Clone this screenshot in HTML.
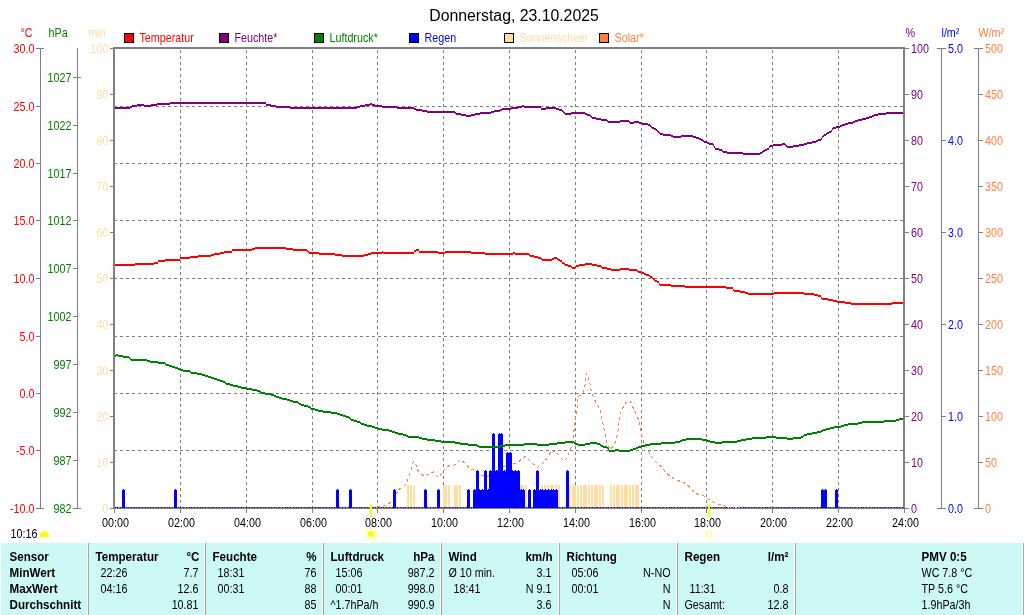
<!DOCTYPE html>
<html><head><meta charset="utf-8"><style>
html,body{margin:0;padding:0;background:#fff;width:1024px;height:615px;overflow:hidden}
svg{display:block;font-family:"Liberation Sans", sans-serif}
</style></head><body>
<svg width="1024" height="615" viewBox="0 0 1024 615" shape-rendering="crispEdges">
<defs><filter id="th" x="0" y="0" width="100%" height="100%" filterUnits="userSpaceOnUse" color-interpolation-filters="sRGB"><feComponentTransfer><feFuncA type="identity"/></feComponentTransfer></filter></defs>
<path d="M114 106.5H903 M114 163.5H903 M114 220.5H903 M114 278.5H903 M114 336.5H903 M114 393.5H903 M114 450.5H903" stroke="#808080" stroke-width="1" stroke-dasharray="3 3" fill="none"/>
<path d="M180.5 509V48 M246.5 509V48 M312.5 509V48 M377.5 509V48 M443.5 509V48 M509.5 509V48 M575.5 509V48 M641.5 509V48 M706.5 509V48 M772.5 509V48 M838.5 509V48" stroke="#808080" stroke-width="1" stroke-dasharray="3 3" fill="none"/>
<rect x="407" y="485" width="2" height="23" fill="#FFDEA0"/>
<rect x="410" y="485" width="2" height="23" fill="#FFDEA0"/>
<rect x="413" y="485" width="2" height="23" fill="#FFDEA0"/>
<rect x="443" y="485" width="2" height="23" fill="#FFDEA0"/>
<rect x="445" y="485" width="2" height="23" fill="#FFDEA0"/>
<rect x="448" y="485" width="2" height="23" fill="#FFDEA0"/>
<rect x="454" y="485" width="2" height="23" fill="#FFDEA0"/>
<rect x="456" y="485" width="2" height="23" fill="#FFDEA0"/>
<rect x="459" y="485" width="2" height="23" fill="#FFDEA0"/>
<rect x="520" y="485" width="2" height="23" fill="#FFDEA0"/>
<rect x="522" y="485" width="2" height="23" fill="#FFDEA0"/>
<rect x="525" y="485" width="2" height="23" fill="#FFDEA0"/>
<rect x="541" y="485" width="2" height="23" fill="#FFDEA0"/>
<rect x="544" y="485" width="2" height="23" fill="#FFDEA0"/>
<rect x="547" y="485" width="2" height="23" fill="#FFDEA0"/>
<rect x="550" y="485" width="2" height="23" fill="#FFDEA0"/>
<rect x="552" y="485" width="2" height="23" fill="#FFDEA0"/>
<rect x="555" y="485" width="2" height="23" fill="#FFDEA0"/>
<rect x="558" y="485" width="2" height="23" fill="#FFDEA0"/>
<rect x="569" y="485" width="2" height="23" fill="#FFDEA0"/>
<rect x="572" y="485" width="2" height="23" fill="#FFDEA0"/>
<rect x="574" y="485" width="2" height="23" fill="#FFDEA0"/>
<rect x="577" y="485" width="2" height="23" fill="#FFDEA0"/>
<rect x="580" y="485" width="2" height="23" fill="#FFDEA0"/>
<rect x="583" y="485" width="2" height="23" fill="#FFDEA0"/>
<rect x="585" y="485" width="2" height="23" fill="#FFDEA0"/>
<rect x="588" y="485" width="2" height="23" fill="#FFDEA0"/>
<rect x="591" y="485" width="2" height="23" fill="#FFDEA0"/>
<rect x="594" y="485" width="2" height="23" fill="#FFDEA0"/>
<rect x="596" y="485" width="2" height="23" fill="#FFDEA0"/>
<rect x="599" y="485" width="2" height="23" fill="#FFDEA0"/>
<rect x="602" y="485" width="2" height="23" fill="#FFDEA0"/>
<rect x="610" y="485" width="2" height="23" fill="#FFDEA0"/>
<rect x="613" y="485" width="2" height="23" fill="#FFDEA0"/>
<rect x="616" y="485" width="2" height="23" fill="#FFDEA0"/>
<rect x="618" y="485" width="2" height="23" fill="#FFDEA0"/>
<rect x="621" y="485" width="2" height="23" fill="#FFDEA0"/>
<rect x="624" y="485" width="2" height="23" fill="#FFDEA0"/>
<rect x="626" y="485" width="2" height="23" fill="#FFDEA0"/>
<rect x="629" y="485" width="2" height="23" fill="#FFDEA0"/>
<rect x="632" y="485" width="2" height="23" fill="#FFDEA0"/>
<rect x="635" y="485" width="2" height="23" fill="#FFDEA0"/>
<rect x="637" y="485" width="2" height="23" fill="#FFDEA0"/>
<rect x="114" y="507" width="789" height="1" fill="#808080"/>
<path d="M114 507.5H728M739 507.5H903" stroke="#808000" stroke-width="1" stroke-dasharray="3 3"/>
<rect x="728" y="507" width="11" height="1" fill="#FFFFFF"/>
<rect x="731" y="507" width="1" height="1" fill="#FF8040"/>
<rect x="733" y="507" width="1" height="1" fill="#FF8040"/>
<rect x="738" y="507" width="1" height="1" fill="#FF8040"/>
<polyline points="377.0,507.5 380.0,506.0 386.0,505.0 392.0,501.5 398.7,489.5 405.0,485.3 407.8,480.0 411.8,467.3 413.5,461.6 415.8,464.0 417.5,470.0 423.8,476.4 428.3,474.2 433.5,472.0 438.6,477.6 443.1,470.8 448.8,465.6 454.5,465.0 460.2,459.6 465.1,463.0 470.3,469.3 477.0,470.4 481.0,475.0 487.3,476.5 495.0,472.0 505.0,466.0 512.4,464.2 517.5,463.0 522.0,458.5 525.5,456.4 531.8,463.0 537.4,467.4 541.4,464.7 544.3,461.3 548.3,456.8 551.7,450.3 556.2,452.2 560.2,456.2 564.0,461.5 568.0,456.0 572.5,443.7 574.3,428.0 575.3,419.3 576.5,414.4 577.5,402.7 578.4,396.3 581.8,394.4 583.0,393.0 584.4,388.3 585.4,382.5 585.4,377.4 586.4,373.3 587.5,375.0 589.5,381.0 590.5,386.4 591.4,392.0 593.8,398.3 597.0,404.2 600.2,410.5 601.5,416.4 602.6,422.2 604.0,429.0 605.6,434.8 607.2,445.0 610.5,449.5 614.7,444.0 617.8,433.0 618.8,426.0 619.6,415.0 622.0,409.4 625.2,403.2 629.0,400.3 630.5,401.2 632.8,407.0 635.7,413.5 638.4,419.3 639.8,426.0 640.7,431.5 643.3,441.5 647.2,449.5 651.0,455.4 655.5,461.5 661.1,466.4 665.1,471.7 670.1,476.4 675.4,480.1 681.7,481.5 687.0,484.3 691.8,489.6 697.6,494.2 703.4,495.4 708.7,499.6 714.5,502.8 720.8,504.9 726.6,506.5 732.0,507.5" stroke="#FF8040" stroke-width="1" stroke-dasharray="3 3" fill="none" shape-rendering="crispEdges"/>
<rect x="115" y="507" width="1" height="1" fill="#0000FF"/>
<rect x="117" y="507" width="1" height="1" fill="#0000FF"/>
<rect x="120" y="507" width="1" height="1" fill="#0000FF"/>
<rect x="126" y="507" width="1" height="1" fill="#0000FF"/>
<rect x="128" y="507" width="1" height="1" fill="#0000FF"/>
<rect x="131" y="507" width="1" height="1" fill="#0000FF"/>
<rect x="134" y="507" width="1" height="1" fill="#0000FF"/>
<rect x="136" y="507" width="1" height="1" fill="#0000FF"/>
<rect x="139" y="507" width="1" height="1" fill="#0000FF"/>
<rect x="142" y="507" width="1" height="1" fill="#0000FF"/>
<rect x="145" y="507" width="1" height="1" fill="#0000FF"/>
<rect x="147" y="507" width="1" height="1" fill="#0000FF"/>
<rect x="150" y="507" width="1" height="1" fill="#0000FF"/>
<rect x="153" y="507" width="1" height="1" fill="#0000FF"/>
<rect x="156" y="507" width="1" height="1" fill="#0000FF"/>
<rect x="158" y="507" width="1" height="1" fill="#0000FF"/>
<rect x="161" y="507" width="1" height="1" fill="#0000FF"/>
<rect x="164" y="507" width="1" height="1" fill="#0000FF"/>
<rect x="167" y="507" width="1" height="1" fill="#0000FF"/>
<rect x="169" y="507" width="1" height="1" fill="#0000FF"/>
<rect x="172" y="507" width="1" height="1" fill="#0000FF"/>
<rect x="178" y="507" width="1" height="1" fill="#0000FF"/>
<rect x="180" y="507" width="1" height="1" fill="#0000FF"/>
<rect x="183" y="507" width="1" height="1" fill="#0000FF"/>
<rect x="186" y="507" width="1" height="1" fill="#0000FF"/>
<rect x="189" y="507" width="1" height="1" fill="#0000FF"/>
<rect x="191" y="507" width="1" height="1" fill="#0000FF"/>
<rect x="194" y="507" width="1" height="1" fill="#0000FF"/>
<rect x="197" y="507" width="1" height="1" fill="#0000FF"/>
<rect x="200" y="507" width="1" height="1" fill="#0000FF"/>
<rect x="202" y="507" width="1" height="1" fill="#0000FF"/>
<rect x="205" y="507" width="1" height="1" fill="#0000FF"/>
<rect x="208" y="507" width="1" height="1" fill="#0000FF"/>
<rect x="211" y="507" width="1" height="1" fill="#0000FF"/>
<rect x="213" y="507" width="1" height="1" fill="#0000FF"/>
<rect x="216" y="507" width="1" height="1" fill="#0000FF"/>
<rect x="219" y="507" width="1" height="1" fill="#0000FF"/>
<rect x="222" y="507" width="1" height="1" fill="#0000FF"/>
<rect x="224" y="507" width="1" height="1" fill="#0000FF"/>
<rect x="227" y="507" width="1" height="1" fill="#0000FF"/>
<rect x="230" y="507" width="1" height="1" fill="#0000FF"/>
<rect x="232" y="507" width="1" height="1" fill="#0000FF"/>
<rect x="235" y="507" width="1" height="1" fill="#0000FF"/>
<rect x="238" y="507" width="1" height="1" fill="#0000FF"/>
<rect x="241" y="507" width="1" height="1" fill="#0000FF"/>
<rect x="243" y="507" width="1" height="1" fill="#0000FF"/>
<rect x="246" y="507" width="1" height="1" fill="#0000FF"/>
<rect x="249" y="507" width="1" height="1" fill="#0000FF"/>
<rect x="252" y="507" width="1" height="1" fill="#0000FF"/>
<rect x="254" y="507" width="1" height="1" fill="#0000FF"/>
<rect x="257" y="507" width="1" height="1" fill="#0000FF"/>
<rect x="260" y="507" width="1" height="1" fill="#0000FF"/>
<rect x="263" y="507" width="1" height="1" fill="#0000FF"/>
<rect x="265" y="507" width="1" height="1" fill="#0000FF"/>
<rect x="268" y="507" width="1" height="1" fill="#0000FF"/>
<rect x="271" y="507" width="1" height="1" fill="#0000FF"/>
<rect x="274" y="507" width="1" height="1" fill="#0000FF"/>
<rect x="276" y="507" width="1" height="1" fill="#0000FF"/>
<rect x="279" y="507" width="1" height="1" fill="#0000FF"/>
<rect x="282" y="507" width="1" height="1" fill="#0000FF"/>
<rect x="285" y="507" width="1" height="1" fill="#0000FF"/>
<rect x="287" y="507" width="1" height="1" fill="#0000FF"/>
<rect x="290" y="507" width="1" height="1" fill="#0000FF"/>
<rect x="293" y="507" width="1" height="1" fill="#0000FF"/>
<rect x="296" y="507" width="1" height="1" fill="#0000FF"/>
<rect x="298" y="507" width="1" height="1" fill="#0000FF"/>
<rect x="301" y="507" width="1" height="1" fill="#0000FF"/>
<rect x="304" y="507" width="1" height="1" fill="#0000FF"/>
<rect x="307" y="507" width="1" height="1" fill="#0000FF"/>
<rect x="309" y="507" width="1" height="1" fill="#0000FF"/>
<rect x="312" y="507" width="1" height="1" fill="#0000FF"/>
<rect x="315" y="507" width="1" height="1" fill="#0000FF"/>
<rect x="318" y="507" width="1" height="1" fill="#0000FF"/>
<rect x="320" y="507" width="1" height="1" fill="#0000FF"/>
<rect x="323" y="507" width="1" height="1" fill="#0000FF"/>
<rect x="326" y="507" width="1" height="1" fill="#0000FF"/>
<rect x="329" y="507" width="1" height="1" fill="#0000FF"/>
<rect x="331" y="507" width="1" height="1" fill="#0000FF"/>
<rect x="334" y="507" width="1" height="1" fill="#0000FF"/>
<rect x="339" y="507" width="1" height="1" fill="#0000FF"/>
<rect x="342" y="507" width="1" height="1" fill="#0000FF"/>
<rect x="345" y="507" width="1" height="1" fill="#0000FF"/>
<rect x="348" y="507" width="1" height="1" fill="#0000FF"/>
<rect x="353" y="507" width="1" height="1" fill="#0000FF"/>
<rect x="356" y="507" width="1" height="1" fill="#0000FF"/>
<rect x="359" y="507" width="1" height="1" fill="#0000FF"/>
<rect x="361" y="507" width="1" height="1" fill="#0000FF"/>
<rect x="364" y="507" width="1" height="1" fill="#0000FF"/>
<rect x="367" y="507" width="1" height="1" fill="#0000FF"/>
<rect x="370" y="507" width="1" height="1" fill="#0000FF"/>
<rect x="372" y="507" width="1" height="1" fill="#0000FF"/>
<rect x="375" y="507" width="1" height="1" fill="#0000FF"/>
<rect x="378" y="507" width="1" height="1" fill="#0000FF"/>
<rect x="381" y="507" width="1" height="1" fill="#0000FF"/>
<rect x="383" y="507" width="1" height="1" fill="#0000FF"/>
<rect x="386" y="507" width="1" height="1" fill="#0000FF"/>
<rect x="389" y="507" width="1" height="1" fill="#0000FF"/>
<rect x="392" y="507" width="1" height="1" fill="#0000FF"/>
<rect x="397" y="507" width="1" height="1" fill="#0000FF"/>
<rect x="400" y="507" width="1" height="1" fill="#0000FF"/>
<rect x="403" y="507" width="1" height="1" fill="#0000FF"/>
<rect x="405" y="507" width="1" height="1" fill="#0000FF"/>
<rect x="408" y="507" width="1" height="1" fill="#0000FF"/>
<rect x="411" y="507" width="1" height="1" fill="#0000FF"/>
<rect x="414" y="507" width="1" height="1" fill="#0000FF"/>
<rect x="416" y="507" width="1" height="1" fill="#0000FF"/>
<rect x="419" y="507" width="1" height="1" fill="#0000FF"/>
<rect x="422" y="507" width="1" height="1" fill="#0000FF"/>
<rect x="427" y="507" width="1" height="1" fill="#0000FF"/>
<rect x="430" y="507" width="1" height="1" fill="#0000FF"/>
<rect x="433" y="507" width="1" height="1" fill="#0000FF"/>
<rect x="435" y="507" width="1" height="1" fill="#0000FF"/>
<rect x="441" y="507" width="1" height="1" fill="#0000FF"/>
<rect x="444" y="507" width="1" height="1" fill="#0000FF"/>
<rect x="446" y="507" width="1" height="1" fill="#0000FF"/>
<rect x="449" y="507" width="1" height="1" fill="#0000FF"/>
<rect x="452" y="507" width="1" height="1" fill="#0000FF"/>
<rect x="455" y="507" width="1" height="1" fill="#0000FF"/>
<rect x="457" y="507" width="1" height="1" fill="#0000FF"/>
<rect x="460" y="507" width="1" height="1" fill="#0000FF"/>
<rect x="463" y="507" width="1" height="1" fill="#0000FF"/>
<rect x="466" y="507" width="1" height="1" fill="#0000FF"/>
<rect x="471" y="507" width="1" height="1" fill="#0000FF"/>
<rect x="526" y="507" width="1" height="1" fill="#0000FF"/>
<rect x="531" y="507" width="1" height="1" fill="#0000FF"/>
<rect x="559" y="507" width="1" height="1" fill="#0000FF"/>
<rect x="562" y="507" width="1" height="1" fill="#0000FF"/>
<rect x="564" y="507" width="1" height="1" fill="#0000FF"/>
<rect x="570" y="507" width="1" height="1" fill="#0000FF"/>
<rect x="573" y="507" width="1" height="1" fill="#0000FF"/>
<rect x="575" y="507" width="1" height="1" fill="#0000FF"/>
<rect x="578" y="507" width="1" height="1" fill="#0000FF"/>
<rect x="581" y="507" width="1" height="1" fill="#0000FF"/>
<rect x="584" y="507" width="1" height="1" fill="#0000FF"/>
<rect x="586" y="507" width="1" height="1" fill="#0000FF"/>
<rect x="589" y="507" width="1" height="1" fill="#0000FF"/>
<rect x="592" y="507" width="1" height="1" fill="#0000FF"/>
<rect x="595" y="507" width="1" height="1" fill="#0000FF"/>
<rect x="597" y="507" width="1" height="1" fill="#0000FF"/>
<rect x="600" y="507" width="1" height="1" fill="#0000FF"/>
<rect x="603" y="507" width="1" height="1" fill="#0000FF"/>
<rect x="606" y="507" width="1" height="1" fill="#0000FF"/>
<rect x="608" y="507" width="1" height="1" fill="#0000FF"/>
<rect x="611" y="507" width="1" height="1" fill="#0000FF"/>
<rect x="614" y="507" width="1" height="1" fill="#0000FF"/>
<rect x="617" y="507" width="1" height="1" fill="#0000FF"/>
<rect x="619" y="507" width="1" height="1" fill="#0000FF"/>
<rect x="622" y="507" width="1" height="1" fill="#0000FF"/>
<rect x="625" y="507" width="1" height="1" fill="#0000FF"/>
<rect x="627" y="507" width="1" height="1" fill="#0000FF"/>
<rect x="630" y="507" width="1" height="1" fill="#0000FF"/>
<rect x="633" y="507" width="1" height="1" fill="#0000FF"/>
<rect x="636" y="507" width="1" height="1" fill="#0000FF"/>
<rect x="638" y="507" width="1" height="1" fill="#0000FF"/>
<rect x="641" y="507" width="1" height="1" fill="#0000FF"/>
<rect x="644" y="507" width="1" height="1" fill="#0000FF"/>
<rect x="647" y="507" width="1" height="1" fill="#0000FF"/>
<rect x="649" y="507" width="1" height="1" fill="#0000FF"/>
<rect x="652" y="507" width="1" height="1" fill="#0000FF"/>
<rect x="655" y="507" width="1" height="1" fill="#0000FF"/>
<rect x="658" y="507" width="1" height="1" fill="#0000FF"/>
<rect x="660" y="507" width="1" height="1" fill="#0000FF"/>
<rect x="663" y="507" width="1" height="1" fill="#0000FF"/>
<rect x="666" y="507" width="1" height="1" fill="#0000FF"/>
<rect x="669" y="507" width="1" height="1" fill="#0000FF"/>
<rect x="671" y="507" width="1" height="1" fill="#0000FF"/>
<rect x="674" y="507" width="1" height="1" fill="#0000FF"/>
<rect x="677" y="507" width="1" height="1" fill="#0000FF"/>
<rect x="680" y="507" width="1" height="1" fill="#0000FF"/>
<rect x="682" y="507" width="1" height="1" fill="#0000FF"/>
<rect x="685" y="507" width="1" height="1" fill="#0000FF"/>
<rect x="688" y="507" width="1" height="1" fill="#0000FF"/>
<rect x="691" y="507" width="1" height="1" fill="#0000FF"/>
<rect x="693" y="507" width="1" height="1" fill="#0000FF"/>
<rect x="696" y="507" width="1" height="1" fill="#0000FF"/>
<rect x="699" y="507" width="1" height="1" fill="#0000FF"/>
<rect x="702" y="507" width="1" height="1" fill="#0000FF"/>
<rect x="704" y="507" width="1" height="1" fill="#0000FF"/>
<rect x="707" y="507" width="1" height="1" fill="#0000FF"/>
<rect x="710" y="507" width="1" height="1" fill="#0000FF"/>
<rect x="713" y="507" width="1" height="1" fill="#0000FF"/>
<rect x="715" y="507" width="1" height="1" fill="#0000FF"/>
<rect x="718" y="507" width="1" height="1" fill="#0000FF"/>
<rect x="721" y="507" width="1" height="1" fill="#0000FF"/>
<rect x="724" y="507" width="1" height="1" fill="#0000FF"/>
<rect x="726" y="507" width="1" height="1" fill="#0000FF"/>
<rect x="729" y="507" width="1" height="1" fill="#0000FF"/>
<rect x="732" y="507" width="1" height="1" fill="#0000FF"/>
<rect x="734" y="507" width="1" height="1" fill="#0000FF"/>
<rect x="737" y="507" width="1" height="1" fill="#0000FF"/>
<rect x="740" y="507" width="1" height="1" fill="#0000FF"/>
<rect x="743" y="507" width="1" height="1" fill="#0000FF"/>
<rect x="745" y="507" width="1" height="1" fill="#0000FF"/>
<rect x="748" y="507" width="1" height="1" fill="#0000FF"/>
<rect x="751" y="507" width="1" height="1" fill="#0000FF"/>
<rect x="754" y="507" width="1" height="1" fill="#0000FF"/>
<rect x="756" y="507" width="1" height="1" fill="#0000FF"/>
<rect x="759" y="507" width="1" height="1" fill="#0000FF"/>
<rect x="762" y="507" width="1" height="1" fill="#0000FF"/>
<rect x="765" y="507" width="1" height="1" fill="#0000FF"/>
<rect x="767" y="507" width="1" height="1" fill="#0000FF"/>
<rect x="770" y="507" width="1" height="1" fill="#0000FF"/>
<rect x="773" y="507" width="1" height="1" fill="#0000FF"/>
<rect x="776" y="507" width="1" height="1" fill="#0000FF"/>
<rect x="778" y="507" width="1" height="1" fill="#0000FF"/>
<rect x="781" y="507" width="1" height="1" fill="#0000FF"/>
<rect x="784" y="507" width="1" height="1" fill="#0000FF"/>
<rect x="787" y="507" width="1" height="1" fill="#0000FF"/>
<rect x="789" y="507" width="1" height="1" fill="#0000FF"/>
<rect x="792" y="507" width="1" height="1" fill="#0000FF"/>
<rect x="795" y="507" width="1" height="1" fill="#0000FF"/>
<rect x="798" y="507" width="1" height="1" fill="#0000FF"/>
<rect x="800" y="507" width="1" height="1" fill="#0000FF"/>
<rect x="803" y="507" width="1" height="1" fill="#0000FF"/>
<rect x="806" y="507" width="1" height="1" fill="#0000FF"/>
<rect x="809" y="507" width="1" height="1" fill="#0000FF"/>
<rect x="811" y="507" width="1" height="1" fill="#0000FF"/>
<rect x="814" y="507" width="1" height="1" fill="#0000FF"/>
<rect x="817" y="507" width="1" height="1" fill="#0000FF"/>
<rect x="820" y="507" width="1" height="1" fill="#0000FF"/>
<rect x="828" y="507" width="1" height="1" fill="#0000FF"/>
<rect x="830" y="507" width="1" height="1" fill="#0000FF"/>
<rect x="833" y="507" width="1" height="1" fill="#0000FF"/>
<rect x="839" y="507" width="1" height="1" fill="#0000FF"/>
<rect x="841" y="507" width="1" height="1" fill="#0000FF"/>
<rect x="844" y="507" width="1" height="1" fill="#0000FF"/>
<rect x="847" y="507" width="1" height="1" fill="#0000FF"/>
<rect x="850" y="507" width="1" height="1" fill="#0000FF"/>
<rect x="852" y="507" width="1" height="1" fill="#0000FF"/>
<rect x="855" y="507" width="1" height="1" fill="#0000FF"/>
<rect x="858" y="507" width="1" height="1" fill="#0000FF"/>
<rect x="861" y="507" width="1" height="1" fill="#0000FF"/>
<rect x="863" y="507" width="1" height="1" fill="#0000FF"/>
<rect x="866" y="507" width="1" height="1" fill="#0000FF"/>
<rect x="869" y="507" width="1" height="1" fill="#0000FF"/>
<rect x="872" y="507" width="1" height="1" fill="#0000FF"/>
<rect x="874" y="507" width="1" height="1" fill="#0000FF"/>
<rect x="877" y="507" width="1" height="1" fill="#0000FF"/>
<rect x="880" y="507" width="1" height="1" fill="#0000FF"/>
<rect x="883" y="507" width="1" height="1" fill="#0000FF"/>
<rect x="885" y="507" width="1" height="1" fill="#0000FF"/>
<rect x="888" y="507" width="1" height="1" fill="#0000FF"/>
<rect x="891" y="507" width="1" height="1" fill="#0000FF"/>
<rect x="894" y="507" width="1" height="1" fill="#0000FF"/>
<rect x="896" y="507" width="1" height="1" fill="#0000FF"/>
<rect x="899" y="507" width="1" height="1" fill="#0000FF"/>
<rect x="902" y="507" width="1" height="1" fill="#0000FF"/>
<rect x="122" y="490" width="3" height="18" fill="#0000FF"/>
<rect x="123" y="489" width="1" height="1" fill="#0000FF"/>
<rect x="174" y="490" width="3" height="18" fill="#0000FF"/>
<rect x="175" y="489" width="1" height="1" fill="#0000FF"/>
<rect x="336" y="490" width="3" height="18" fill="#0000FF"/>
<rect x="337" y="489" width="1" height="1" fill="#0000FF"/>
<rect x="349" y="490" width="3" height="18" fill="#0000FF"/>
<rect x="350" y="489" width="1" height="1" fill="#0000FF"/>
<rect x="393" y="490" width="3" height="18" fill="#0000FF"/>
<rect x="394" y="489" width="1" height="1" fill="#0000FF"/>
<rect x="424" y="490" width="3" height="18" fill="#0000FF"/>
<rect x="425" y="489" width="1" height="1" fill="#0000FF"/>
<rect x="437" y="490" width="3" height="18" fill="#0000FF"/>
<rect x="438" y="489" width="1" height="1" fill="#0000FF"/>
<rect x="467" y="490" width="3" height="18" fill="#0000FF"/>
<rect x="468" y="489" width="1" height="1" fill="#0000FF"/>
<rect x="473" y="490" width="3" height="18" fill="#0000FF"/>
<rect x="474" y="489" width="1" height="1" fill="#0000FF"/>
<rect x="476" y="471" width="3" height="37" fill="#0000FF"/>
<rect x="477" y="470" width="1" height="1" fill="#0000FF"/>
<rect x="478" y="490" width="3" height="18" fill="#0000FF"/>
<rect x="479" y="489" width="1" height="1" fill="#0000FF"/>
<rect x="481" y="490" width="3" height="18" fill="#0000FF"/>
<rect x="482" y="489" width="1" height="1" fill="#0000FF"/>
<rect x="484" y="471" width="3" height="37" fill="#0000FF"/>
<rect x="485" y="470" width="1" height="1" fill="#0000FF"/>
<rect x="487" y="490" width="3" height="18" fill="#0000FF"/>
<rect x="488" y="489" width="1" height="1" fill="#0000FF"/>
<rect x="489" y="471" width="3" height="37" fill="#0000FF"/>
<rect x="490" y="470" width="1" height="1" fill="#0000FF"/>
<rect x="492" y="434" width="3" height="74" fill="#0000FF"/>
<rect x="493" y="433" width="1" height="1" fill="#0000FF"/>
<rect x="495" y="471" width="3" height="37" fill="#0000FF"/>
<rect x="496" y="470" width="1" height="1" fill="#0000FF"/>
<rect x="498" y="434" width="3" height="74" fill="#0000FF"/>
<rect x="499" y="433" width="1" height="1" fill="#0000FF"/>
<rect x="500" y="434" width="3" height="74" fill="#0000FF"/>
<rect x="501" y="433" width="1" height="1" fill="#0000FF"/>
<rect x="503" y="471" width="3" height="37" fill="#0000FF"/>
<rect x="504" y="470" width="1" height="1" fill="#0000FF"/>
<rect x="506" y="453" width="3" height="55" fill="#0000FF"/>
<rect x="507" y="452" width="1" height="1" fill="#0000FF"/>
<rect x="509" y="453" width="3" height="55" fill="#0000FF"/>
<rect x="510" y="452" width="1" height="1" fill="#0000FF"/>
<rect x="511" y="471" width="3" height="37" fill="#0000FF"/>
<rect x="512" y="470" width="1" height="1" fill="#0000FF"/>
<rect x="514" y="471" width="3" height="37" fill="#0000FF"/>
<rect x="515" y="470" width="1" height="1" fill="#0000FF"/>
<rect x="517" y="471" width="3" height="37" fill="#0000FF"/>
<rect x="518" y="470" width="1" height="1" fill="#0000FF"/>
<rect x="520" y="490" width="3" height="18" fill="#0000FF"/>
<rect x="521" y="489" width="1" height="1" fill="#0000FF"/>
<rect x="522" y="490" width="3" height="18" fill="#0000FF"/>
<rect x="523" y="489" width="1" height="1" fill="#0000FF"/>
<rect x="528" y="490" width="3" height="18" fill="#0000FF"/>
<rect x="529" y="489" width="1" height="1" fill="#0000FF"/>
<rect x="533" y="490" width="3" height="18" fill="#0000FF"/>
<rect x="534" y="489" width="1" height="1" fill="#0000FF"/>
<rect x="536" y="471" width="3" height="37" fill="#0000FF"/>
<rect x="537" y="470" width="1" height="1" fill="#0000FF"/>
<rect x="539" y="490" width="3" height="18" fill="#0000FF"/>
<rect x="540" y="489" width="1" height="1" fill="#0000FF"/>
<rect x="541" y="490" width="3" height="18" fill="#0000FF"/>
<rect x="542" y="489" width="1" height="1" fill="#0000FF"/>
<rect x="544" y="490" width="3" height="18" fill="#0000FF"/>
<rect x="545" y="489" width="1" height="1" fill="#0000FF"/>
<rect x="547" y="490" width="3" height="18" fill="#0000FF"/>
<rect x="548" y="489" width="1" height="1" fill="#0000FF"/>
<rect x="550" y="490" width="3" height="18" fill="#0000FF"/>
<rect x="551" y="489" width="1" height="1" fill="#0000FF"/>
<rect x="552" y="490" width="3" height="18" fill="#0000FF"/>
<rect x="553" y="489" width="1" height="1" fill="#0000FF"/>
<rect x="555" y="490" width="3" height="18" fill="#0000FF"/>
<rect x="556" y="489" width="1" height="1" fill="#0000FF"/>
<rect x="566" y="471" width="3" height="37" fill="#0000FF"/>
<rect x="567" y="470" width="1" height="1" fill="#0000FF"/>
<rect x="821" y="490" width="3" height="18" fill="#0000FF"/>
<rect x="822" y="489" width="1" height="1" fill="#0000FF"/>
<rect x="824" y="490" width="3" height="18" fill="#0000FF"/>
<rect x="825" y="489" width="1" height="1" fill="#0000FF"/>
<rect x="835" y="490" width="3" height="18" fill="#0000FF"/>
<rect x="836" y="489" width="1" height="1" fill="#0000FF"/>
<path d="M115 355h1v2h-1zM116 354h2v2h-2zM118 355h5v2h-5zM123 356h6v2h-6zM129 357h1v2h-1zM130 358h1v2h-1zM131 359h16v2h-16zM147 360h3v2h-3zM150 361h8v2h-8zM158 362h7v2h-7zM165 363h1v2h-1zM166 364h3v2h-3zM169 365h3v2h-3zM172 366h3v2h-3zM175 367h3v2h-3zM178 368h2v2h-2zM180 369h3v2h-3zM183 370h7v2h-7zM190 371h1v2h-1zM191 372h6v2h-6zM197 373h5v2h-5zM202 374h3v2h-3zM205 375h3v2h-3zM208 376h3v2h-3zM211 377h3v2h-3zM214 378h3v2h-3zM217 379h3v2h-3zM220 380h3v2h-3zM223 381h2v2h-2zM225 382h1v2h-1zM226 383h4v2h-4zM230 384h3v2h-3zM233 385h5v2h-5zM238 386h3v2h-3zM241 387h5v2h-5zM246 388h6v2h-6zM252 389h5v2h-5zM257 390h3v2h-3zM260 391h1v2h-1zM261 392h4v2h-4zM265 393h6v2h-6zM271 394h3v2h-3zM274 395h2v2h-2zM276 396h3v2h-3zM279 397h3v2h-3zM282 398h5v2h-5zM287 399h3v2h-3zM290 400h3v2h-3zM293 401h5v2h-5zM298 402h1v2h-1zM299 403h2v2h-2zM301 404h3v2h-3zM304 405h4v2h-4zM308 406h2v2h-2zM310 407h1v2h-1zM311 408h4v2h-4zM315 409h3v2h-3zM318 410h5v2h-5zM323 411h8v2h-8zM331 412h6v2h-6zM337 413h3v2h-3zM340 414h3v2h-3zM343 415h3v2h-3zM346 416h3v2h-3zM349 417h1v2h-1zM350 418h1v2h-1zM351 419h3v2h-3zM354 420h3v2h-3zM357 421h3v2h-3zM360 422h1v2h-1zM361 423h3v2h-3zM364 424h3v2h-3zM367 425h5v2h-5zM372 426h3v2h-3zM375 427h3v2h-3zM378 428h4v2h-4zM382 429h7v2h-7zM389 430h3v2h-3zM392 431h3v2h-3zM395 432h3v2h-3zM398 433h5v2h-5zM403 434h3v2h-3zM406 435h2v2h-2zM408 436h11v2h-11zM419 437h3v2h-3zM422 438h5v2h-5zM427 439h8v2h-8zM435 440h6v2h-6zM441 441h14v2h-14zM455 442h5v2h-5zM460 443h8v2h-8zM468 444h9v2h-9zM477 445h2v2h-2zM479 446h21v2h-21zM500 445h5v2h-5zM505 444h19v2h-19zM524 443h13v2h-13zM537 444h12v2h-12zM549 443h8v2h-8zM557 442h8v2h-8zM565 441h9v2h-9zM574 442h1v2h-1zM575 443h3v2h-3zM578 444h7v2h-7zM585 443h5v2h-5zM590 442h7v2h-7zM597 443h3v2h-3zM600 444h1v2h-1zM601 445h2v2h-2zM603 446h4v2h-4zM607 447h1v2h-1zM608 448h1v2h-1zM609 450h6v2h-6zM615 449h4v2h-4zM619 450h11v2h-11zM630 449h3v2h-3zM633 448h3v2h-3zM636 447h2v2h-2zM638 446h3v2h-3zM641 445h4v2h-4zM645 444h5v2h-5zM650 443h11v2h-11zM661 442h14v2h-14zM675 441h5v2h-5zM680 440h2v2h-2zM682 439h4v2h-4zM686 438h16v2h-16zM702 439h5v2h-5zM707 440h3v2h-3zM710 441h5v2h-5zM715 442h7v2h-7zM722 441h15v2h-15zM737 440h4v2h-4zM741 439h5v2h-5zM746 438h6v2h-6zM752 437h14v2h-14zM766 436h10v2h-10zM776 437h11v2h-11zM787 438h6v2h-6zM793 437h8v2h-8zM801 436h2v2h-2zM803 435h1v2h-1zM804 434h3v2h-3zM807 433h5v2h-5zM812 432h5v2h-5zM817 431h4v2h-4zM821 430h2v2h-2zM823 429h3v2h-3zM826 428h4v2h-4zM830 427h4v2h-4zM834 426h7v2h-7zM841 425h3v2h-3zM844 424h4v2h-4zM848 423h10v2h-10zM858 422h4v2h-4zM862 421h22v2h-22zM884 420h12v2h-12zM896 419h3v2h-3zM899 418h4v2h-4z" fill="#008000"/>
<path d="M115 264h20v2h-20zM135 263h19v2h-19zM154 262h4v2h-4zM158 260h7v2h-7zM165 259h15v2h-15zM180 257h10v2h-10zM190 256h8v2h-8zM198 255h13v2h-13zM211 254h3v2h-3zM214 253h6v2h-6zM220 252h4v2h-4zM224 251h8v2h-8zM232 249h20v2h-20zM252 248h3v2h-3zM255 247h31v2h-31zM286 248h7v2h-7zM293 249h14v2h-14zM307 250h1v2h-1zM308 251h1v2h-1zM309 252h10v2h-10zM319 253h16v2h-16zM335 254h7v2h-7zM342 255h22v2h-22zM364 254h4v2h-4zM368 253h3v2h-3zM371 252h11v2h-11zM382 251h1v2h-1zM383 252h31v2h-31zM414 250h2v2h-2zM416 249h3v2h-3zM419 251h19v2h-19zM438 252h7v2h-7zM445 251h26v2h-26zM471 252h14v2h-14zM485 253h28v2h-28zM513 252h2v2h-2zM515 253h14v2h-14zM529 254h1v2h-1zM530 255h4v2h-4zM534 256h4v2h-4zM538 257h3v2h-3zM541 258h1v2h-1zM542 259h10v2h-10zM552 258h2v2h-2zM554 257h3v2h-3zM557 258h1v2h-1zM558 259h2v2h-2zM560 260h2v2h-2zM562 262h2v2h-2zM564 263h1v2h-1zM565 264h3v2h-3zM568 265h3v2h-3zM571 266h1v2h-1zM572 267h3v2h-3zM575 266h1v2h-1zM576 265h3v2h-3zM579 264h6v2h-6zM585 263h7v2h-7zM592 264h5v2h-5zM597 265h4v2h-4zM601 266h1v2h-1zM602 267h5v2h-5zM607 268h4v2h-4zM611 269h9v2h-9zM620 268h9v2h-9zM629 269h8v2h-8zM637 270h1v2h-1zM638 271h4v2h-4zM642 272h2v2h-2zM644 273h2v2h-2zM646 274h3v2h-3zM649 275h1v2h-1zM650 276h2v2h-2zM652 277h1v2h-1zM653 278h1v2h-1zM654 279h1v2h-1zM655 280h2v2h-2zM657 281h2v2h-2zM659 283h1v2h-1zM660 284h11v2h-11zM671 285h14v2h-14zM685 286h41v2h-41zM726 287h7v2h-7zM733 289h1v2h-1zM734 290h6v2h-6zM740 291h5v2h-5zM745 292h3v2h-3zM748 293h26v2h-26zM774 292h30v2h-30zM804 293h10v2h-10zM814 294h4v2h-4zM818 295h3v2h-3zM821 297h1v2h-1zM822 298h6v2h-6zM828 299h5v2h-5zM833 300h4v2h-4zM837 301h8v2h-8zM845 302h6v2h-6zM851 303h41v2h-41zM892 302h11v2h-11z" fill="#FF0000"/>
<path d="M115 107h15v2h-15zM130 106h2v2h-2zM132 105h5v2h-5zM137 104h7v2h-7zM144 105h7v2h-7zM151 104h6v2h-6zM157 103h13v2h-13zM170 102h96v2h-96zM266 104h5v2h-5zM271 105h5v2h-5zM276 106h14v2h-14zM290 107h67v2h-67zM357 106h3v2h-3zM360 105h5v2h-5zM365 104h5v2h-5zM370 103h2v2h-2zM372 104h3v2h-3zM375 105h7v2h-7zM382 106h15v2h-15zM397 107h17v2h-17zM414 108h2v2h-2zM416 109h6v2h-6zM422 110h5v2h-5zM427 111h28v2h-28zM455 112h1v2h-1zM456 113h5v2h-5zM461 114h5v2h-5zM466 115h5v2h-5zM471 114h4v2h-4zM475 113h5v2h-5zM480 112h11v2h-11zM491 111h3v2h-3zM494 110h6v2h-6zM500 109h2v2h-2zM502 108h9v2h-9zM511 107h7v2h-7zM518 106h4v2h-4zM522 105h2v2h-2zM524 106h17v2h-17zM541 108h5v2h-5zM546 107h10v2h-10zM556 108h3v2h-3zM559 109h3v2h-3zM562 110h1v2h-1zM563 111h1v2h-1zM564 112h1v2h-1zM565 113h6v2h-6zM571 112h14v2h-14zM585 113h2v2h-2zM587 114h3v2h-3zM590 115h1v2h-1zM591 116h1v2h-1zM592 117h4v2h-4zM596 118h5v2h-5zM601 119h6v2h-6zM607 120h1v2h-1zM608 121h12v2h-12zM620 120h9v2h-9zM629 121h1v2h-1zM630 122h4v2h-4zM634 121h5v2h-5zM639 122h3v2h-3zM642 123h6v2h-6zM648 124h2v2h-2zM650 125h1v2h-1zM651 126h1v2h-1zM652 127h2v2h-2zM654 128h2v2h-2zM656 129h1v2h-1zM657 130h1v2h-1zM658 131h1v2h-1zM659 132h1v2h-1zM660 133h3v2h-3zM663 134h8v2h-8zM671 135h2v2h-2zM673 136h8v2h-8zM681 135h12v2h-12zM693 136h3v2h-3zM696 137h3v2h-3zM699 138h2v2h-2zM701 139h2v2h-2zM703 140h1v2h-1zM704 141h3v2h-3zM707 142h2v2h-2zM709 143h4v2h-4zM713 144h1v2h-1zM714 146h1v2h-1zM715 148h4v2h-4zM719 149h3v2h-3zM722 150h1v2h-1zM723 151h4v2h-4zM727 152h16v2h-16zM743 153h17v2h-17zM760 152h2v2h-2zM762 151h1v2h-1zM763 150h2v2h-2zM765 149h2v2h-2zM767 148h2v2h-2zM769 146h1v2h-1zM770 145h3v2h-3zM773 144h9v2h-9zM782 143h3v2h-3zM785 144h1v2h-1zM786 145h1v2h-1zM787 146h6v2h-6zM793 145h6v2h-6zM799 144h5v2h-5zM804 143h3v2h-3zM807 142h5v2h-5zM812 141h4v2h-4zM816 140h2v2h-2zM818 139h3v2h-3zM821 138h1v2h-1zM822 136h1v2h-1zM823 135h1v2h-1zM824 134h2v2h-2zM826 133h1v2h-1zM827 132h2v2h-2zM829 131h2v2h-2zM831 130h1v2h-1zM832 128h1v2h-1zM833 127h3v2h-3zM836 126h4v2h-4zM840 125h2v2h-2zM842 124h3v2h-3zM845 123h3v2h-3zM848 122h5v2h-5zM853 121h2v2h-2zM855 120h3v2h-3zM858 119h4v2h-4zM862 118h4v2h-4zM866 117h3v2h-3zM869 116h3v2h-3zM872 115h2v2h-2zM874 114h4v2h-4zM878 113h8v2h-8zM886 112h17v2h-17z" fill="#800080"/>
<rect x="113" y="47" width="2" height="462" fill="#808080"/>
<rect x="903" y="47" width="2" height="462" fill="#808080"/>
<rect x="113" y="47" width="792" height="2" fill="#808080"/>
<rect x="113" y="508" width="792" height="1" fill="#808080"/>
<rect x="370" y="504" width="2" height="13" fill="#FFFF00"/>
<rect x="708" y="504" width="2" height="13" fill="#FFFF00"/>
<rect x="114" y="509" width="1" height="4" fill="#808080"/>
<rect x="180" y="509" width="1" height="4" fill="#808080"/>
<rect x="246" y="509" width="1" height="4" fill="#808080"/>
<rect x="312" y="509" width="1" height="4" fill="#808080"/>
<rect x="377" y="509" width="1" height="4" fill="#808080"/>
<rect x="443" y="509" width="1" height="4" fill="#808080"/>
<rect x="509" y="509" width="1" height="4" fill="#808080"/>
<rect x="575" y="509" width="1" height="4" fill="#808080"/>
<rect x="641" y="509" width="1" height="4" fill="#808080"/>
<rect x="706" y="509" width="1" height="4" fill="#808080"/>
<rect x="772" y="509" width="1" height="4" fill="#808080"/>
<rect x="838" y="509" width="1" height="4" fill="#808080"/>
<rect x="904" y="509" width="1" height="4" fill="#808080"/>
<rect x="40" y="48" width="1" height="461" fill="#808080"/>
<rect x="36" y="48" width="8" height="1" fill="#808080"/>
<rect x="36" y="508" width="8" height="1" fill="#808080"/>
<rect x="36" y="48" width="4" height="1" fill="#808080"/>
<rect x="36" y="106" width="4" height="1" fill="#808080"/>
<rect x="36" y="163" width="4" height="1" fill="#808080"/>
<rect x="36" y="220" width="4" height="1" fill="#808080"/>
<rect x="36" y="278" width="4" height="1" fill="#808080"/>
<rect x="36" y="336" width="4" height="1" fill="#808080"/>
<rect x="36" y="393" width="4" height="1" fill="#808080"/>
<rect x="36" y="450" width="4" height="1" fill="#808080"/>
<rect x="36" y="508" width="4" height="1" fill="#808080"/>
<rect x="77" y="48" width="1" height="461" fill="#808080"/>
<rect x="73" y="508" width="8" height="1" fill="#808080"/>
<rect x="73" y="77" width="4" height="1" fill="#808080"/>
<rect x="73" y="125" width="4" height="1" fill="#808080"/>
<rect x="73" y="173" width="4" height="1" fill="#808080"/>
<rect x="73" y="220" width="4" height="1" fill="#808080"/>
<rect x="73" y="268" width="4" height="1" fill="#808080"/>
<rect x="73" y="316" width="4" height="1" fill="#808080"/>
<rect x="73" y="364" width="4" height="1" fill="#808080"/>
<rect x="73" y="412" width="4" height="1" fill="#808080"/>
<rect x="73" y="460" width="4" height="1" fill="#808080"/>
<rect x="73" y="508" width="4" height="1" fill="#808080"/>
<rect x="78" y="77" width="3" height="1" fill="#808080"/>
<rect x="110" y="508" width="3" height="1" fill="#808080"/>
<rect x="110" y="462" width="3" height="1" fill="#808080"/>
<rect x="110" y="416" width="3" height="1" fill="#808080"/>
<rect x="110" y="370" width="3" height="1" fill="#808080"/>
<rect x="110" y="324" width="3" height="1" fill="#808080"/>
<rect x="110" y="278" width="3" height="1" fill="#808080"/>
<rect x="110" y="232" width="3" height="1" fill="#808080"/>
<rect x="110" y="186" width="3" height="1" fill="#808080"/>
<rect x="110" y="140" width="3" height="1" fill="#808080"/>
<rect x="110" y="94" width="3" height="1" fill="#808080"/>
<rect x="110" y="48" width="3" height="1" fill="#808080"/>
<rect x="905" y="508" width="4" height="1" fill="#808080"/>
<rect x="905" y="462" width="4" height="1" fill="#808080"/>
<rect x="905" y="416" width="4" height="1" fill="#808080"/>
<rect x="905" y="370" width="4" height="1" fill="#808080"/>
<rect x="905" y="324" width="4" height="1" fill="#808080"/>
<rect x="905" y="278" width="4" height="1" fill="#808080"/>
<rect x="905" y="232" width="4" height="1" fill="#808080"/>
<rect x="905" y="186" width="4" height="1" fill="#808080"/>
<rect x="905" y="140" width="4" height="1" fill="#808080"/>
<rect x="905" y="94" width="4" height="1" fill="#808080"/>
<rect x="905" y="48" width="4" height="1" fill="#808080"/>
<rect x="941" y="48" width="1" height="461" fill="#808080"/>
<rect x="937" y="48" width="9" height="1" fill="#808080"/>
<rect x="937" y="508" width="9" height="1" fill="#808080"/>
<rect x="942" y="508" width="4" height="1" fill="#808080"/>
<rect x="942" y="416" width="4" height="1" fill="#808080"/>
<rect x="942" y="324" width="4" height="1" fill="#808080"/>
<rect x="942" y="232" width="4" height="1" fill="#808080"/>
<rect x="942" y="140" width="4" height="1" fill="#808080"/>
<rect x="942" y="48" width="4" height="1" fill="#808080"/>
<rect x="978" y="48" width="1" height="461" fill="#808080"/>
<rect x="974" y="48" width="9" height="1" fill="#808080"/>
<rect x="974" y="508" width="9" height="1" fill="#808080"/>
<rect x="979" y="508" width="4" height="1" fill="#808080"/>
<rect x="979" y="462" width="4" height="1" fill="#808080"/>
<rect x="979" y="416" width="4" height="1" fill="#808080"/>
<rect x="979" y="370" width="4" height="1" fill="#808080"/>
<rect x="979" y="324" width="4" height="1" fill="#808080"/>
<rect x="979" y="278" width="4" height="1" fill="#808080"/>
<rect x="979" y="232" width="4" height="1" fill="#808080"/>
<rect x="979" y="186" width="4" height="1" fill="#808080"/>
<rect x="979" y="140" width="4" height="1" fill="#808080"/>
<rect x="979" y="94" width="4" height="1" fill="#808080"/>
<rect x="979" y="48" width="4" height="1" fill="#808080"/>
<rect x="124" y="33" width="10" height="10" fill="#000"/>
<rect x="125" y="34" width="8" height="8" fill="#FF0000"/>
<rect x="219" y="33" width="10" height="10" fill="#000"/>
<rect x="220" y="34" width="8" height="8" fill="#800080"/>
<rect x="314" y="33" width="10" height="10" fill="#000"/>
<rect x="315" y="34" width="8" height="8" fill="#008000"/>
<rect x="409" y="33" width="10" height="10" fill="#000"/>
<rect x="410" y="34" width="8" height="8" fill="#0000FF"/>
<rect x="504" y="33" width="10" height="10" fill="#000"/>
<rect x="505" y="34" width="8" height="8" fill="#FFDEA0"/>
<rect x="599" y="33" width="10" height="10" fill="#000"/>
<rect x="600" y="34" width="8" height="8" fill="#FF8040"/>
<rect x="43" y="531" width="3" height="1" fill="#FFFF00"/>
<rect x="41" y="532" width="7" height="2" fill="#FFFF00"/>
<rect x="40" y="534" width="9" height="3" fill="#FFFF00"/>
<g shape-rendering="auto"><circle cx="371" cy="534" r="5.6" fill="none" stroke="#FFFF90" stroke-width="1.3"/></g>
<rect x="369" y="531" width="4" height="1" fill="#FFFF00"/>
<rect x="368" y="532" width="6" height="4" fill="#FFFF00"/>
<rect x="369" y="536" width="4" height="1" fill="#FFFF00"/>
<path d="M706 531h6v6h-6zM707 532v4h4v-4z" fill="#FFFF70" fill-rule="evenodd"/>
<rect x="1" y="543" width="1022" height="72" fill="#CCF9F6"/>
<rect x="1023" y="543" width="1" height="72" fill="#ACA899"/>
<rect x="87" y="543" width="1" height="72" fill="#FFFFFF"/>
<rect x="88" y="543" width="1" height="72" fill="#ACA899"/>
<rect x="204" y="543" width="1" height="72" fill="#FFFFFF"/>
<rect x="205" y="543" width="1" height="72" fill="#ACA899"/>
<rect x="322" y="543" width="1" height="72" fill="#FFFFFF"/>
<rect x="323" y="543" width="1" height="72" fill="#ACA899"/>
<rect x="440" y="543" width="1" height="72" fill="#FFFFFF"/>
<rect x="441" y="543" width="1" height="72" fill="#ACA899"/>
<rect x="558" y="543" width="1" height="72" fill="#FFFFFF"/>
<rect x="559" y="543" width="1" height="72" fill="#ACA899"/>
<rect x="676" y="543" width="1" height="72" fill="#FFFFFF"/>
<rect x="677" y="543" width="1" height="72" fill="#ACA899"/>
<rect x="794" y="543" width="1" height="72" fill="#FFFFFF"/>
<rect x="795" y="543" width="1" height="72" fill="#ACA899"/>
<rect x="1022" y="543" width="1" height="72" fill="#FFFFFF"/>
<g filter="url(#th)">
<text transform="translate(34.5 53) scale(0.86 1)" fill="#FF0000" font-size="12.5" text-anchor="end" font-weight="normal" >30.0</text>
<text transform="translate(34.5 111) scale(0.86 1)" fill="#FF0000" font-size="12.5" text-anchor="end" font-weight="normal" >25.0</text>
<text transform="translate(34.5 168) scale(0.86 1)" fill="#FF0000" font-size="12.5" text-anchor="end" font-weight="normal" >20.0</text>
<text transform="translate(34.5 225) scale(0.86 1)" fill="#FF0000" font-size="12.5" text-anchor="end" font-weight="normal" >15.0</text>
<text transform="translate(34.5 283) scale(0.86 1)" fill="#FF0000" font-size="12.5" text-anchor="end" font-weight="normal" >10.0</text>
<text transform="translate(34.5 341) scale(0.86 1)" fill="#FF0000" font-size="12.5" text-anchor="end" font-weight="normal" >5.0</text>
<text transform="translate(34.5 398) scale(0.86 1)" fill="#FF0000" font-size="12.5" text-anchor="end" font-weight="normal" >0.0</text>
<text transform="translate(34.5 455) scale(0.86 1)" fill="#FF0000" font-size="12.5" text-anchor="end" font-weight="normal" >-5.0</text>
<text transform="translate(34.5 513) scale(0.86 1)" fill="#FF0000" font-size="12.5" text-anchor="end" font-weight="normal" >-10.0</text>
<text transform="translate(71.5 82) scale(0.86 1)" fill="#008000" font-size="12.5" text-anchor="end" font-weight="normal" >1027</text>
<text transform="translate(71.5 130) scale(0.86 1)" fill="#008000" font-size="12.5" text-anchor="end" font-weight="normal" >1022</text>
<text transform="translate(71.5 178) scale(0.86 1)" fill="#008000" font-size="12.5" text-anchor="end" font-weight="normal" >1017</text>
<text transform="translate(71.5 225) scale(0.86 1)" fill="#008000" font-size="12.5" text-anchor="end" font-weight="normal" >1012</text>
<text transform="translate(71.5 273) scale(0.86 1)" fill="#008000" font-size="12.5" text-anchor="end" font-weight="normal" >1007</text>
<text transform="translate(71.5 321) scale(0.86 1)" fill="#008000" font-size="12.5" text-anchor="end" font-weight="normal" >1002</text>
<text transform="translate(71.5 369) scale(0.86 1)" fill="#008000" font-size="12.5" text-anchor="end" font-weight="normal" >997</text>
<text transform="translate(71.5 417) scale(0.86 1)" fill="#008000" font-size="12.5" text-anchor="end" font-weight="normal" >992</text>
<text transform="translate(71.5 465) scale(0.86 1)" fill="#008000" font-size="12.5" text-anchor="end" font-weight="normal" >987</text>
<text transform="translate(71.5 513) scale(0.86 1)" fill="#008000" font-size="12.5" text-anchor="end" font-weight="normal" >982</text>
<text transform="translate(108.5 513) scale(0.86 1)" fill="#FFDEA0" font-size="12.5" text-anchor="end" font-weight="normal" >0</text>
<text transform="translate(108.5 467) scale(0.86 1)" fill="#FFDEA0" font-size="12.5" text-anchor="end" font-weight="normal" >10</text>
<text transform="translate(108.5 421) scale(0.86 1)" fill="#FFDEA0" font-size="12.5" text-anchor="end" font-weight="normal" >20</text>
<text transform="translate(108.5 375) scale(0.86 1)" fill="#FFDEA0" font-size="12.5" text-anchor="end" font-weight="normal" >30</text>
<text transform="translate(108.5 329) scale(0.86 1)" fill="#FFDEA0" font-size="12.5" text-anchor="end" font-weight="normal" >40</text>
<text transform="translate(108.5 283) scale(0.86 1)" fill="#FFDEA0" font-size="12.5" text-anchor="end" font-weight="normal" >50</text>
<text transform="translate(108.5 237) scale(0.86 1)" fill="#FFDEA0" font-size="12.5" text-anchor="end" font-weight="normal" >60</text>
<text transform="translate(108.5 191) scale(0.86 1)" fill="#FFDEA0" font-size="12.5" text-anchor="end" font-weight="normal" >70</text>
<text transform="translate(108.5 145) scale(0.86 1)" fill="#FFDEA0" font-size="12.5" text-anchor="end" font-weight="normal" >80</text>
<text transform="translate(108.5 99) scale(0.86 1)" fill="#FFDEA0" font-size="12.5" text-anchor="end" font-weight="normal" >90</text>
<text transform="translate(108.5 53) scale(0.86 1)" fill="#FFDEA0" font-size="12.5" text-anchor="end" font-weight="normal" >100</text>
<text transform="translate(911.0 513) scale(0.86 1)" fill="#800080" font-size="12.5" text-anchor="start" font-weight="normal" >0</text>
<text transform="translate(911.0 467) scale(0.86 1)" fill="#800080" font-size="12.5" text-anchor="start" font-weight="normal" >10</text>
<text transform="translate(911.0 421) scale(0.86 1)" fill="#800080" font-size="12.5" text-anchor="start" font-weight="normal" >20</text>
<text transform="translate(911.0 375) scale(0.86 1)" fill="#800080" font-size="12.5" text-anchor="start" font-weight="normal" >30</text>
<text transform="translate(911.0 329) scale(0.86 1)" fill="#800080" font-size="12.5" text-anchor="start" font-weight="normal" >40</text>
<text transform="translate(911.0 283) scale(0.86 1)" fill="#800080" font-size="12.5" text-anchor="start" font-weight="normal" >50</text>
<text transform="translate(911.0 237) scale(0.86 1)" fill="#800080" font-size="12.5" text-anchor="start" font-weight="normal" >60</text>
<text transform="translate(911.0 191) scale(0.86 1)" fill="#800080" font-size="12.5" text-anchor="start" font-weight="normal" >70</text>
<text transform="translate(911.0 145) scale(0.86 1)" fill="#800080" font-size="12.5" text-anchor="start" font-weight="normal" >80</text>
<text transform="translate(911.0 99) scale(0.86 1)" fill="#800080" font-size="12.5" text-anchor="start" font-weight="normal" >90</text>
<text transform="translate(911.0 53) scale(0.86 1)" fill="#800080" font-size="12.5" text-anchor="start" font-weight="normal" >100</text>
<text transform="translate(948.0 513) scale(0.86 1)" fill="#0000FF" font-size="12.5" text-anchor="start" font-weight="normal" >0.0</text>
<text transform="translate(948.0 421) scale(0.86 1)" fill="#0000FF" font-size="12.5" text-anchor="start" font-weight="normal" >1.0</text>
<text transform="translate(948.0 329) scale(0.86 1)" fill="#0000FF" font-size="12.5" text-anchor="start" font-weight="normal" >2.0</text>
<text transform="translate(948.0 237) scale(0.86 1)" fill="#0000FF" font-size="12.5" text-anchor="start" font-weight="normal" >3.0</text>
<text transform="translate(948.0 145) scale(0.86 1)" fill="#0000FF" font-size="12.5" text-anchor="start" font-weight="normal" >4.0</text>
<text transform="translate(948.0 53) scale(0.86 1)" fill="#0000FF" font-size="12.5" text-anchor="start" font-weight="normal" >5.0</text>
<text transform="translate(985.0 513) scale(0.86 1)" fill="#FF8040" font-size="12.5" text-anchor="start" font-weight="normal" >0</text>
<text transform="translate(985.0 467) scale(0.86 1)" fill="#FF8040" font-size="12.5" text-anchor="start" font-weight="normal" >50</text>
<text transform="translate(985.0 421) scale(0.86 1)" fill="#FF8040" font-size="12.5" text-anchor="start" font-weight="normal" >100</text>
<text transform="translate(985.0 375) scale(0.86 1)" fill="#FF8040" font-size="12.5" text-anchor="start" font-weight="normal" >150</text>
<text transform="translate(985.0 329) scale(0.86 1)" fill="#FF8040" font-size="12.5" text-anchor="start" font-weight="normal" >200</text>
<text transform="translate(985.0 283) scale(0.86 1)" fill="#FF8040" font-size="12.5" text-anchor="start" font-weight="normal" >250</text>
<text transform="translate(985.0 237) scale(0.86 1)" fill="#FF8040" font-size="12.5" text-anchor="start" font-weight="normal" >300</text>
<text transform="translate(985.0 191) scale(0.86 1)" fill="#FF8040" font-size="12.5" text-anchor="start" font-weight="normal" >350</text>
<text transform="translate(985.0 145) scale(0.86 1)" fill="#FF8040" font-size="12.5" text-anchor="start" font-weight="normal" >400</text>
<text transform="translate(985.0 99) scale(0.86 1)" fill="#FF8040" font-size="12.5" text-anchor="start" font-weight="normal" >450</text>
<text transform="translate(985.0 53) scale(0.86 1)" fill="#FF8040" font-size="12.5" text-anchor="start" font-weight="normal" >500</text>
<text transform="translate(20.5 37) scale(0.86 1)" fill="#FF0000" font-size="12.5" text-anchor="start" font-weight="normal" >°C</text>
<text transform="translate(48.5 37) scale(0.86 1)" fill="#008000" font-size="12.5" text-anchor="start" font-weight="normal" >hPa</text>
<text transform="translate(88.5 37) scale(0.86 1)" fill="#FFDEA0" font-size="12.5" text-anchor="start" font-weight="normal" >min</text>
<text transform="translate(905.5 37) scale(0.86 1)" fill="#800080" font-size="12.5" text-anchor="start" font-weight="normal" >%</text>
<text transform="translate(941.5 37) scale(0.86 1)" fill="#0000FF" font-size="12.5" text-anchor="start" font-weight="normal" >l/m²</text>
<text transform="translate(978.5 37) scale(0.86 1)" fill="#FF8040" font-size="12.5" text-anchor="start" font-weight="normal" >W/m²</text>
<text transform="translate(139.5 42) scale(0.86 1)" fill="#FF0000" font-size="12.5" text-anchor="start" font-weight="normal" >Temperatur</text>
<text transform="translate(234.5 42) scale(0.86 1)" fill="#800080" font-size="12.5" text-anchor="start" font-weight="normal" >Feuchte*</text>
<text transform="translate(329.5 42) scale(0.86 1)" fill="#008000" font-size="12.5" text-anchor="start" font-weight="normal" >Luftdruck*</text>
<text transform="translate(424.5 42) scale(0.86 1)" fill="#0000FF" font-size="12.5" text-anchor="start" font-weight="normal" >Regen</text>
<text transform="translate(519.5 42) scale(0.86 1)" fill="#FFDEA0" font-size="12.5" text-anchor="start" font-weight="normal" >Sonnenschein</text>
<text transform="translate(614.5 42) scale(0.86 1)" fill="#FF8040" font-size="12.5" text-anchor="start" font-weight="normal" >Solar*</text>
<text transform="translate(514 21) scale(1 1)" fill="#000" font-size="15.8" text-anchor="middle" font-weight="normal" >Donnerstag, 23.10.2025</text>
<text transform="translate(115.5 527) scale(0.86 1)" fill="#000" font-size="12.5" text-anchor="middle" font-weight="normal" >00:00</text>
<text transform="translate(181.5 527) scale(0.86 1)" fill="#000" font-size="12.5" text-anchor="middle" font-weight="normal" >02:00</text>
<text transform="translate(247.5 527) scale(0.86 1)" fill="#000" font-size="12.5" text-anchor="middle" font-weight="normal" >04:00</text>
<text transform="translate(313.5 527) scale(0.86 1)" fill="#000" font-size="12.5" text-anchor="middle" font-weight="normal" >06:00</text>
<text transform="translate(378.5 527) scale(0.86 1)" fill="#000" font-size="12.5" text-anchor="middle" font-weight="normal" >08:00</text>
<text transform="translate(444.5 527) scale(0.86 1)" fill="#000" font-size="12.5" text-anchor="middle" font-weight="normal" >10:00</text>
<text transform="translate(510.5 527) scale(0.86 1)" fill="#000" font-size="12.5" text-anchor="middle" font-weight="normal" >12:00</text>
<text transform="translate(576.5 527) scale(0.86 1)" fill="#000" font-size="12.5" text-anchor="middle" font-weight="normal" >14:00</text>
<text transform="translate(642.5 527) scale(0.86 1)" fill="#000" font-size="12.5" text-anchor="middle" font-weight="normal" >16:00</text>
<text transform="translate(707.5 527) scale(0.86 1)" fill="#000" font-size="12.5" text-anchor="middle" font-weight="normal" >18:00</text>
<text transform="translate(773.5 527) scale(0.86 1)" fill="#000" font-size="12.5" text-anchor="middle" font-weight="normal" >20:00</text>
<text transform="translate(839.5 527) scale(0.86 1)" fill="#000" font-size="12.5" text-anchor="middle" font-weight="normal" >22:00</text>
<text transform="translate(905.5 527) scale(0.86 1)" fill="#000" font-size="12.5" text-anchor="middle" font-weight="normal" >24:00</text>
<text transform="translate(10.5 538) scale(0.86 1)" fill="#000" font-size="12.5" text-anchor="start" font-weight="normal" >10:16</text>
<text transform="translate(9.5 561) scale(0.93 1)" fill="#000" font-size="12.5" text-anchor="start" font-weight="bold" >Sensor</text>
<text transform="translate(9.5 577) scale(0.93 1)" fill="#000" font-size="12.5" text-anchor="start" font-weight="bold" >MinWert</text>
<text transform="translate(9.5 593) scale(0.93 1)" fill="#000" font-size="12.5" text-anchor="start" font-weight="bold" >MaxWert</text>
<text transform="translate(9.5 609) scale(0.93 1)" fill="#000" font-size="12.5" text-anchor="start" font-weight="bold" >Durchschnitt</text>
<text transform="translate(95.5 561) scale(0.93 1)" fill="#000" font-size="12.5" text-anchor="start" font-weight="bold" >Temperatur</text>
<text transform="translate(199.5 561) scale(0.93 1)" fill="#000" font-size="12.5" text-anchor="end" font-weight="bold" >°C</text>
<text transform="translate(100.5 577) scale(0.86 1)" fill="#000" font-size="12.5" text-anchor="start" font-weight="normal" >22:26</text>
<text transform="translate(198.5 577) scale(0.86 1)" fill="#000" font-size="12.5" text-anchor="end" font-weight="normal" >7.7</text>
<text transform="translate(100.5 593) scale(0.86 1)" fill="#000" font-size="12.5" text-anchor="start" font-weight="normal" >04:16</text>
<text transform="translate(198.5 593) scale(0.86 1)" fill="#000" font-size="12.5" text-anchor="end" font-weight="normal" >12.6</text>
<text transform="translate(198.5 609) scale(0.86 1)" fill="#000" font-size="12.5" text-anchor="end" font-weight="normal" >10.81</text>
<text transform="translate(212.5 561) scale(0.93 1)" fill="#000" font-size="12.5" text-anchor="start" font-weight="bold" >Feuchte</text>
<text transform="translate(316.5 561) scale(0.93 1)" fill="#000" font-size="12.5" text-anchor="end" font-weight="bold" >%</text>
<text transform="translate(217.5 577) scale(0.86 1)" fill="#000" font-size="12.5" text-anchor="start" font-weight="normal" >18:31</text>
<text transform="translate(316.5 577) scale(0.86 1)" fill="#000" font-size="12.5" text-anchor="end" font-weight="normal" >76</text>
<text transform="translate(217.5 593) scale(0.86 1)" fill="#000" font-size="12.5" text-anchor="start" font-weight="normal" >00:31</text>
<text transform="translate(316.5 593) scale(0.86 1)" fill="#000" font-size="12.5" text-anchor="end" font-weight="normal" >88</text>
<text transform="translate(316.5 609) scale(0.86 1)" fill="#000" font-size="12.5" text-anchor="end" font-weight="normal" >85</text>
<text transform="translate(330.5 561) scale(0.93 1)" fill="#000" font-size="12.5" text-anchor="start" font-weight="bold" >Luftdruck</text>
<text transform="translate(434.5 561) scale(0.93 1)" fill="#000" font-size="12.5" text-anchor="end" font-weight="bold" >hPa</text>
<text transform="translate(335.5 577) scale(0.86 1)" fill="#000" font-size="12.5" text-anchor="start" font-weight="normal" >15:06</text>
<text transform="translate(434.5 577) scale(0.86 1)" fill="#000" font-size="12.5" text-anchor="end" font-weight="normal" >987.2</text>
<text transform="translate(335.5 593) scale(0.86 1)" fill="#000" font-size="12.5" text-anchor="start" font-weight="normal" >00:01</text>
<text transform="translate(434.5 593) scale(0.86 1)" fill="#000" font-size="12.5" text-anchor="end" font-weight="normal" >998.0</text>
<text transform="translate(330.5 609) scale(0.86 1)" fill="#000" font-size="12.5" text-anchor="start" font-weight="normal" >^1.7hPa/h</text>
<text transform="translate(434.5 609) scale(0.86 1)" fill="#000" font-size="12.5" text-anchor="end" font-weight="normal" >990.9</text>
<text transform="translate(448.5 561) scale(0.93 1)" fill="#000" font-size="12.5" text-anchor="start" font-weight="bold" >Wind</text>
<text transform="translate(552.5 561) scale(0.93 1)" fill="#000" font-size="12.5" text-anchor="end" font-weight="bold" >km/h</text>
<text transform="translate(448.5 577) scale(0.86 1)" fill="#000" font-size="12.5" text-anchor="start" font-weight="normal" >Ø 10 min.</text>
<text transform="translate(551.5 577) scale(0.86 1)" fill="#000" font-size="12.5" text-anchor="end" font-weight="normal" >3.1</text>
<text transform="translate(453.5 593) scale(0.86 1)" fill="#000" font-size="12.5" text-anchor="start" font-weight="normal" >18:41</text>
<text transform="translate(551.5 593) scale(0.86 1)" fill="#000" font-size="12.5" text-anchor="end" font-weight="normal" >N 9.1</text>
<text transform="translate(551.5 609) scale(0.86 1)" fill="#000" font-size="12.5" text-anchor="end" font-weight="normal" >3.6</text>
<text transform="translate(566.5 561) scale(0.93 1)" fill="#000" font-size="12.5" text-anchor="start" font-weight="bold" >Richtung</text>
<text transform="translate(571.5 577) scale(0.86 1)" fill="#000" font-size="12.5" text-anchor="start" font-weight="normal" >05:06</text>
<text transform="translate(670.5 577) scale(0.86 1)" fill="#000" font-size="12.5" text-anchor="end" font-weight="normal" >N-NO</text>
<text transform="translate(571.5 593) scale(0.86 1)" fill="#000" font-size="12.5" text-anchor="start" font-weight="normal" >00:01</text>
<text transform="translate(670.5 593) scale(0.86 1)" fill="#000" font-size="12.5" text-anchor="end" font-weight="normal" >N</text>
<text transform="translate(670.5 609) scale(0.86 1)" fill="#000" font-size="12.5" text-anchor="end" font-weight="normal" >N</text>
<text transform="translate(684.5 561) scale(0.93 1)" fill="#000" font-size="12.5" text-anchor="start" font-weight="bold" >Regen</text>
<text transform="translate(788.5 561) scale(0.93 1)" fill="#000" font-size="12.5" text-anchor="end" font-weight="bold" >l/m²</text>
<text transform="translate(689.5 593) scale(0.86 1)" fill="#000" font-size="12.5" text-anchor="start" font-weight="normal" >11:31</text>
<text transform="translate(788.5 593) scale(0.86 1)" fill="#000" font-size="12.5" text-anchor="end" font-weight="normal" >0.8</text>
<text transform="translate(684.5 609) scale(0.86 1)" fill="#000" font-size="12.5" text-anchor="start" font-weight="normal" >Gesamt:</text>
<text transform="translate(788.5 609) scale(0.86 1)" fill="#000" font-size="12.5" text-anchor="end" font-weight="normal" >12.8</text>
<text transform="translate(921.5 561) scale(0.93 1)" fill="#000" font-size="12.5" text-anchor="start" font-weight="bold" >PMV 0:5</text>
<text transform="translate(921.5 577) scale(0.86 1)" fill="#000" font-size="12.5" text-anchor="start" font-weight="normal" >WC 7.8 °C</text>
<text transform="translate(921.5 593) scale(0.86 1)" fill="#000" font-size="12.5" text-anchor="start" font-weight="normal" >TP 5.6 °C</text>
<text transform="translate(921.5 609) scale(0.86 1)" fill="#000" font-size="12.5" text-anchor="start" font-weight="normal" >1.9hPa/3h</text>
</g>
</svg>
</body></html>
